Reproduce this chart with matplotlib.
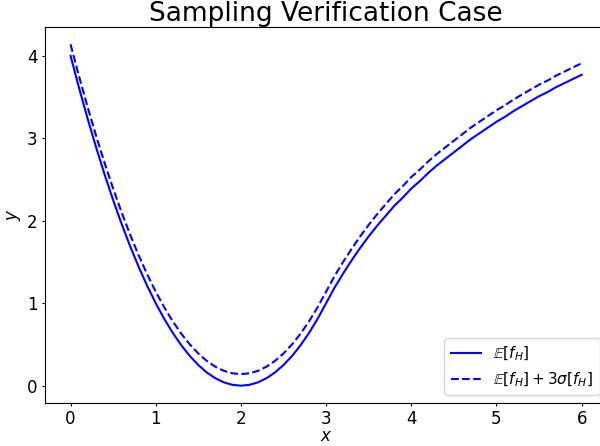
import matplotlib
matplotlib.use("Agg")
import matplotlib.pyplot as plt

x_vals = [round(0.1 * i, 1) for i in range(61)]

mean_vals = [
    4.00, 3.61, 3.24, 2.89, 2.56, 2.25, 1.96, 1.69, 1.44, 1.21,
    1.00, 0.81, 0.64, 0.49, 0.36, 0.25, 0.16, 0.09, 0.04, 0.01,
    0.00, 0.01, 0.04, 0.09, 0.16, 0.25, 0.36, 0.49, 0.64, 0.81,
    1.00, 1.19, 1.36, 1.52, 1.67, 1.81, 1.94, 2.06, 2.18, 2.28,
    2.39, 2.48, 2.58, 2.67, 2.75, 2.83, 2.91, 2.99, 3.06, 3.13,
    3.20, 3.26, 3.33, 3.39, 3.45, 3.51, 3.56, 3.62, 3.67, 3.72,
    3.77,
]

upper_vals = [
    4.14, 3.75, 3.38, 3.03, 2.70, 2.39, 2.10, 1.83, 1.58, 1.35,
    1.14, 0.95, 0.78, 0.63, 0.50, 0.39, 0.30, 0.23, 0.18, 0.15,
    0.14, 0.15, 0.18, 0.23, 0.30, 0.39, 0.50, 0.63, 0.78, 0.95,
    1.14, 1.33, 1.50, 1.66, 1.81, 1.95, 2.08, 2.20, 2.32, 2.42,
    2.53, 2.62, 2.72, 2.81, 2.89, 2.97, 3.05, 3.13, 3.20, 3.27,
    3.34, 3.40, 3.47, 3.53, 3.59, 3.65, 3.70, 3.76, 3.81, 3.86,
    3.91,
]

fig = plt.figure(figsize=(6.0, 4.46), dpi=100)
# axes extends slightly past the right edge, as in the reference crop
ax = fig.add_axes([0.075, 0.097, 0.937, 0.842])

ax.plot(x_vals, mean_vals, color="blue", linestyle="-", linewidth=1.5,
        label=r"$\mathbb{E}[f_H]$")
ax.plot(x_vals, upper_vals, color="blue", linestyle="--", linewidth=1.5,
        label=r"$\mathbb{E}[f_H] + 3\sigma[f_H]$")

ax.set_title("Sampling Verification Case", fontsize=19, pad=4)
ax.set_xlabel(r"$x$", fontsize=12, labelpad=-1)
ax.set_ylabel(r"$y$", fontsize=12, labelpad=3)
ax.tick_params(labelsize=12, length=2.5, pad=3)
ax.set_xticks([0, 1, 2, 3, 4, 5, 6])
ax.set_yticks([0, 1, 2, 3, 4])
ax.legend(loc="lower right", fontsize=11)

fig.savefig("out.png", dpi=100)
